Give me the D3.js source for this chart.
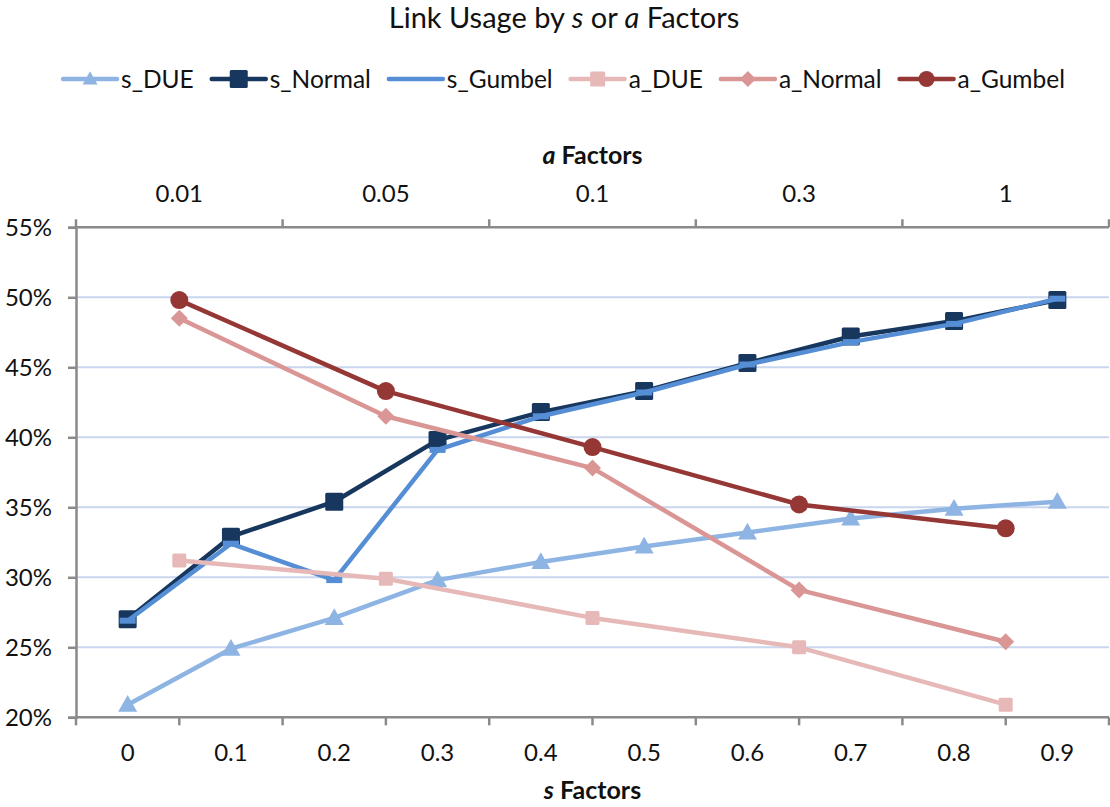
<!DOCTYPE html>
<html>
<head>
<meta charset="utf-8">
<script src="https://cdn.jsdelivr.net/npm/d3@7"></script>
<style>
  html, body { margin: 0; padding: 0; background: #fff; }
  svg { display: block; font-family: Lato, "Open Sans", sans-serif; }
</style>
</head>
<body>
<svg id="chart" width="1110" height="807"></svg>
<script>
// Category labels for the two horizontal axes
const sFactors = ["0", "0.1", "0.2", "0.3", "0.4", "0.5", "0.6", "0.7", "0.8", "0.9"];
const aFactors = ["0.01", "0.05", "0.1", "0.3", "1"];

// Link usage (%) for each series
const sDUE    = [20.9, 24.9, 27.1, 29.8, 31.1, 32.2, 33.2, 34.2, 34.9, 35.4];
const sNormal = [27.0, 32.9, 35.4, 39.8, 41.8, 43.3, 45.3, 47.2, 48.3, 49.8];
const sGumbel = [26.9, 32.4, 29.8, 39.1, 41.5, 43.2, 45.2, 46.8, 48.1, 49.9];
const aDUE    = [31.2, 29.9, 27.1, 25.0, 20.9];
const aNormal = [48.5, 41.5, 37.8, 29.1, 25.4];
const aGumbel = [49.8, 43.3, 39.3, 35.2, 33.5];

// Value axis ticks (%)
const yTicks = [20, 25, 30, 35, 40, 45, 50, 55];

const seriesList = [
  { name: "s_DUE",    values: sDUE,    axis: "s", color: "#8EB4E3", marker: "triangle", size: 19, lsize: 15 },
  { name: "s_Normal", values: sNormal, axis: "s", color: "#17375E", marker: "square",   size: 18, lsize: 18 },
  { name: "s_Gumbel", values: sGumbel, axis: "s", color: "#558ED5", marker: "dash",     size: 16, lsize: 0 },
  { name: "a_DUE",    values: aDUE,    axis: "a", color: "#E6B9B8", marker: "square",   size: 14, lsize: 15 },
  { name: "a_Normal", values: aNormal, axis: "a", color: "#D99694", marker: "diamond",  size: 17, lsize: 16 },
  { name: "a_Gumbel", values: aGumbel, axis: "a", color: "#953735", marker: "circle",   size: 18, lsize: 16 }
];

const svg = d3.select("#chart");
const plot = { left: 76, right: 1109, top: 227.3, bottom: 717.3 };
const axisColor = "#8A8A8A";
const gridColor = "#C8D6EE";
const textColor = "#111";
const tickFont = 24;

const y = d3.scaleLinear().domain([20, 55]).range([plot.bottom, plot.top]);
const xS = d3.scaleBand().domain(sFactors).range([plot.left, plot.right]);
const xA = d3.scaleBand().domain(aFactors).range([plot.left, plot.right]);
const cx = (scale, d) => scale(d) + scale.bandwidth() / 2;

// Horizontal gridlines
svg.append("g")
  .selectAll("line")
  .data(yTicks.filter(t => t > 20 && t < 55))
  .join("line")
  .attr("x1", plot.left).attr("x2", plot.right)
  .attr("y1", d => y(d)).attr("y2", d => y(d))
  .attr("stroke", gridColor).attr("stroke-width", 2);

// Left value axis
const yAxis = svg.append("g")
  .attr("transform", `translate(${plot.left},0)`)
  .call(d3.axisLeft(y).tickValues(yTicks).tickSize(8).tickPadding(16).tickFormat(d => d + "%"));
yAxis.select(".domain").attr("stroke", axisColor).attr("stroke-width", 2.5);
yAxis.selectAll(".tick line").attr("stroke", axisColor).attr("stroke-width", 2.5);
yAxis.selectAll(".tick text")
  .attr("font-size", tickFont).attr("font-family", "Lato, sans-serif").attr("fill", textColor)
  .attr("dy", "0.36em");

// Category axis: tick marks between categories, labels centred in each band
function categoryAxis(scale, yPos, dir, labelY) {
  const g = svg.append("g");
  g.append("line")
    .attr("x1", plot.left).attr("x2", plot.right)
    .attr("y1", yPos).attr("y2", yPos)
    .attr("stroke", axisColor).attr("stroke-width", 2.5);
  const bounds = scale.domain().map(d => scale(d)).concat([scale.range()[1]]);
  g.selectAll("line.tk")
    .data(bounds)
    .join("line").attr("class", "tk")
    .attr("x1", d => d).attr("x2", d => d)
    .attr("y1", yPos).attr("y2", yPos + dir * 8)
    .attr("stroke", axisColor).attr("stroke-width", 2.5);
  g.selectAll("text")
    .data(scale.domain())
    .join("text")
    .attr("x", d => cx(scale, d))
    .attr("y", labelY)
    .attr("text-anchor", "middle")
    .attr("font-size", tickFont).attr("fill", textColor)
    .text(d => d);
}
categoryAxis(xS, plot.bottom, 1, 761);
categoryAxis(xA, plot.top, -1, 202);

// Axis titles
function axisTitle(letter, yPos) {
  const t = svg.append("text")
    .attr("x", (plot.left + plot.right) / 2)
    .attr("y", yPos)
    .attr("text-anchor", "middle")
    .attr("font-size", 25).attr("font-weight", "bold").attr("fill", textColor);
  t.append("tspan").attr("font-style", "italic").text(letter);
  t.append("tspan").text(" Factors");
}
axisTitle("a", 164);
axisTitle("s", 799);

// Chart title
const title = svg.append("text")
  .attr("x", 564).attr("y", 28)
  .attr("text-anchor", "middle")
  .attr("font-size", 29).attr("fill", textColor);
title.append("tspan").text("Link Usage by ");
title.append("tspan").attr("font-style", "italic").text("s");
title.append("tspan").text(" or ");
title.append("tspan").attr("font-style", "italic").text("a");
title.append("tspan").text(" Factors");

// Marker drawing
function drawMarker(g, type, x0, y0, size, color) {
  if (size <= 0) return;
  if (type === "square") {
    g.append("rect")
      .attr("x", x0 - size / 2).attr("y", y0 - size / 2)
      .attr("width", size).attr("height", size).attr("rx", 1.5)
      .attr("fill", color);
  } else if (type === "circle") {
    g.append("circle").attr("cx", x0).attr("cy", y0).attr("r", size / 2).attr("fill", color);
  } else if (type === "triangle") {
    const h = size * 0.88;
    g.append("path")
      .attr("d", `M${x0},${y0 - h * 0.58}L${x0 + size / 2},${y0 + h * 0.42}L${x0 - size / 2},${y0 + h * 0.42}Z`)
      .attr("fill", color);
  } else if (type === "diamond") {
    const r = size / 2;
    g.append("path")
      .attr("d", `M${x0},${y0 - r}L${x0 + r},${y0}L${x0},${y0 + r}L${x0 - r},${y0}Z`)
      .attr("fill", color);
  } else if (type === "dash") {
    g.append("rect")
      .attr("x", x0 - size / 2).attr("y", y0 - 3)
      .attr("width", size).attr("height", 6)
      .attr("fill", color);
  }
}

// Series lines and markers
const line = d3.line().x(d => d[0]).y(d => d[1]);
seriesList.forEach(s => {
  const scale = s.axis === "s" ? xS : xA;
  const pts = s.values.map((v, i) => [cx(scale, scale.domain()[i]), y(v)]);
  const g = svg.append("g");
  g.append("path")
    .attr("d", line(pts))
    .attr("fill", "none")
    .attr("stroke", s.color)
    .attr("stroke-width", 4.5)
    .attr("stroke-linejoin", "round")
    .attr("stroke-linecap", "round");
  pts.forEach(p => drawMarker(g, s.marker, p[0], p[1], s.size, s.color));
});

// Legend
const legend = svg.append("g");
const legendY = 79;
let lx = 0;
seriesList.forEach(s => {
  const g = legend.append("g").attr("transform", `translate(${lx},0)`);
  g.append("line")
    .attr("x1", 0).attr("x2", 54)
    .attr("y1", legendY).attr("y2", legendY)
    .attr("stroke", s.color).attr("stroke-width", 4.5).attr("stroke-linecap", "round");
  drawMarker(g, s.marker, 27, legendY, s.lsize, s.color);
  const t = g.append("text")
    .attr("x", 58).attr("y", legendY + 8.5)
    .attr("font-size", 24.5).attr("fill", textColor)
    .text(s.name);
  const w = t.node().getComputedTextLength();
  lx += 58 + w + 18;
});
const legendWidth = lx - 18;
legend.attr("transform", `translate(${564 - legendWidth / 2},0)`);
</script>
</body>
</html>
